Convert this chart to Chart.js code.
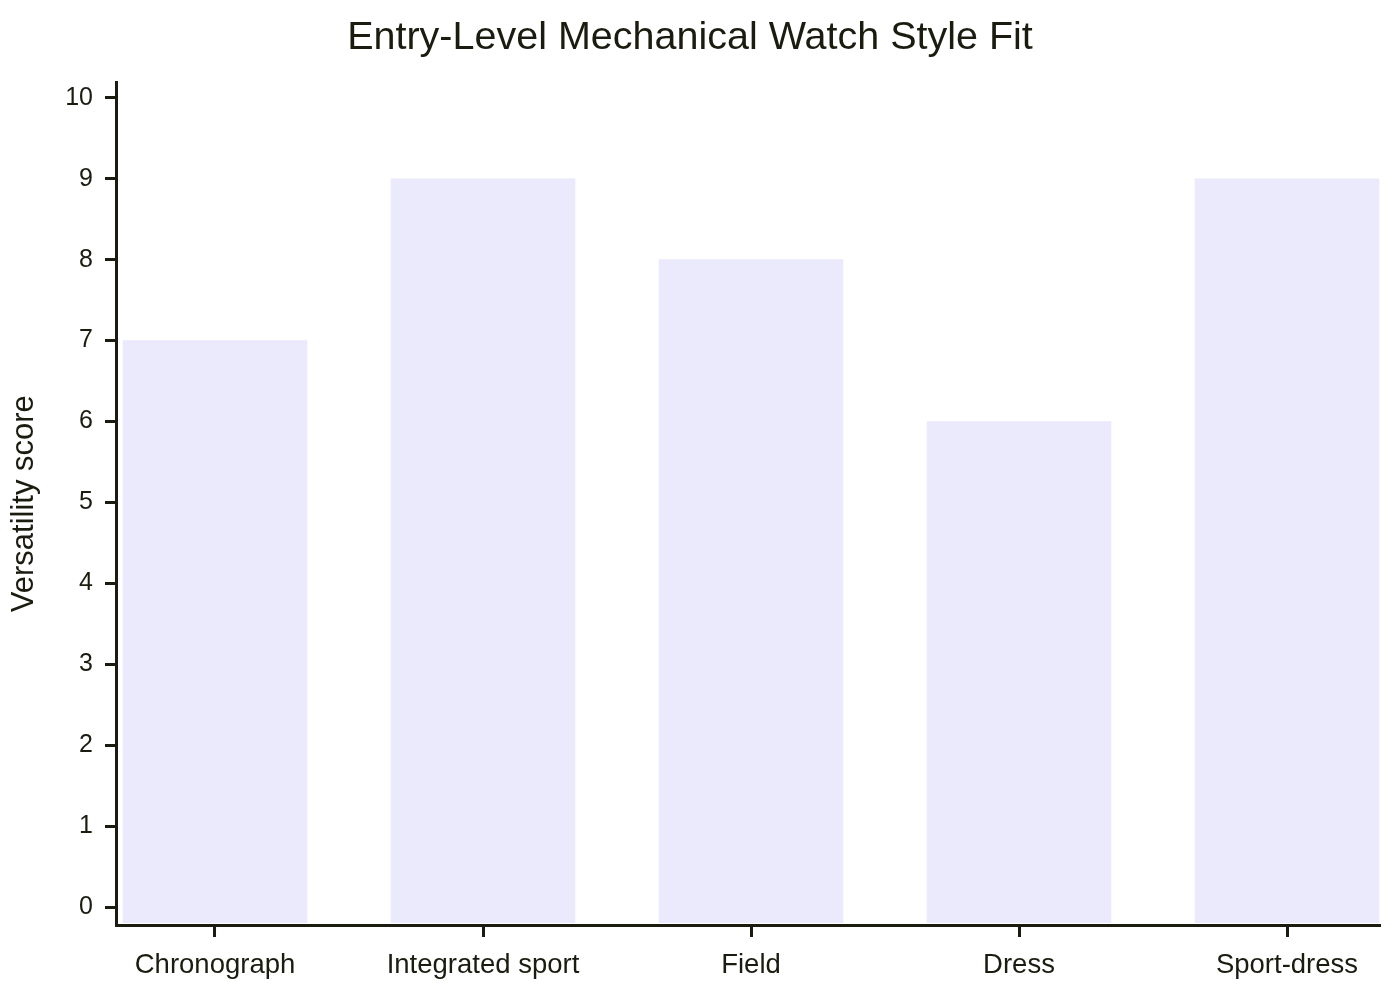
<!DOCTYPE html>
<html>
<head>
<meta charset="utf-8">
<script src="https://cdn.jsdelivr.net/npm/chart.js@4/dist/chart.umd.min.js"></script>
<style>
  html, body { margin: 0; padding: 0; background: #fff; }
  #wrap { width: 1400px; height: 1000px; }
</style>
</head>
<body>
<div id="wrap"><canvas id="myChart"></canvas></div>
<script>
const categories = ['Chronograph', 'Integrated sport', 'Field', 'Dress', 'Sport-dress'];
const scores = [7, 9, 8, 6, 9];
const yTicks = [0, 1, 2, 3, 4, 5, 6, 7, 8, 9, 10];

const ink = '#1b1b10';
const font = "'Liberation Sans', Arial, sans-serif";
const yMin = -0.22;
const barBase = -0.19;

const ctx = document.getElementById('myChart').getContext('2d');
const myChart = new Chart(ctx, {
    type: 'bar',
    data: {
        datasets: [
            {
                label: 'Versatility score',
                data: categories.map((c, i) => ({ x: i, y: scores[i] })),
                backgroundColor: '#ebe9fc',
                borderWidth: 0,
                barThickness: 184,
                base: barBase
            }
        ]
    },
    options: {
        responsive: true,
        maintainAspectRatio: false,
        animation: false,
        layout: {
            padding: { left: 0, right: 20, top: 0, bottom: 0 }
        },
        scales: {
            x: {
                type: 'linear',
                offset: false,
                min: -0.3694,
                max: 4.347,
                afterBuildTicks: (scale) => {
                    scale.ticks = categories.map((c, i) => ({ value: i }));
                },
                afterFit: (scale) => { scale.height = 75; },
                grid: {
                    offset: false,
                    drawOnChartArea: false,
                    drawTicks: true,
                    tickLength: 12,
                    tickWidth: 3,
                    tickColor: ink
                },
                border: { display: true, width: 3, color: ink },
                ticks: {
                    color: ink,
                    padding: 12,
                    maxRotation: 0,
                    autoSkip: false,
                    font: { size: 27.5, family: font },
                    callback: (v) => categories[v]
                }
            },
            y: {
                min: yMin,
                max: 10.19,
                afterBuildTicks: (scale) => {
                    scale.ticks = yTicks.map(v => ({ value: v }));
                },
                afterFit: (scale) => { scale.width = 116; },
                grid: {
                    drawOnChartArea: false,
                    drawTicks: true,
                    tickLength: 11,
                    tickWidth: 3,
                    tickColor: ink
                },
                border: { display: true, width: 3, color: ink },
                ticks: {
                    color: ink,
                    padding: 12,
                    font: { size: 25, family: font }
                },
                title: {
                    display: true,
                    text: 'Versatility score',
                    color: ink,
                    padding: { top: 6, bottom: 0 },
                    font: { size: 31, family: font }
                }
            }
        },
        plugins: {
            legend: { display: false },
            tooltip: { enabled: false },
            title: {
                display: true,
                text: 'Entry-Level Mechanical Watch Style Fit',
                color: ink,
                padding: { top: 14, bottom: 21 },
                font: { size: 39.5, weight: 'normal', family: font }
            }
        }
    }
});
</script>
</body>
</html>
